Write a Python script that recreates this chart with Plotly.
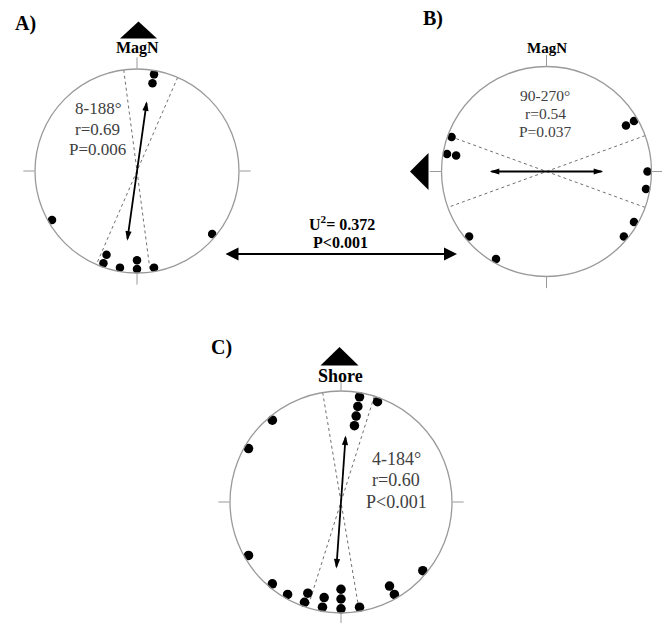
import plotly.graph_objects as go

W, H = 662, 623

# ---- data (compass degrees, clockwise from north) ----
a_angles = [10, 10, 130, 170, 180, 180, 190, 200, 200, 240]
b_angles = [60, 60, 90, 100, 120, 130, 210, 230, 280, 280, 290]
c_angles = [10, 10, 10, 10, 20, 130, 150, 150, 170, 180, 180, 180, 190, 190,
            200, 200, 210, 220, 240, 300, 320]

a_mean, a_r, a_ci = 8, 0.69, 15.5
b_mean, b_r, b_ci = 90, 0.54, 20
c_mean, c_r, c_ci = 4, 0.60, 13.5

a_text = ["8-188°", "r=0.69", "P=0.006"]
b_text = ["90-270°", "r=0.54", "P=0.037"]
c_text = ["4-184°", "r=0.60", "P<0.001"]
u2_text = ["U<sup>2</sup>= 0.372", "P<0.001"]

FONT = "Liberation Serif"
GREY = "#9a9a9a"
TXT = "#404040"

panels = [
    # name, angles, mean, r, ci, center px, radius px, dot size
    ("polar", a_angles, a_mean, a_r, a_ci, (137, 171), 102, 8.5),
    ("polar2", b_angles, b_mean, b_r, b_ci, (546.5, 171.5), 105, 8.5),
    ("polar3", c_angles, c_mean, c_r, c_ci, (341, 502), 111, 9.5),
]

fig = go.Figure()
layout_polars = {}
for name, angs, mean, rr, ci, (cx, cy), R, dsz in panels:
    # stack repeated angles inward
    seen = {}
    rs = []
    for a in angs:
        k = seen.get(a, 0)
        seen[a] = k + 1
        rs.append(0.962 - 0.088 * k)
    sub = name
    # dashed confidence lines
    t1, t2 = mean - ci, mean + ci
    fig.add_trace(go.Scatterpolar(
        r=[1, 0, 1, None, 1, 0, 1],
        theta=[t1, t1, t1 + 180, None, t2, t2, t2 + 180],
        mode="lines", line=dict(color="#6f6f6f", width=1, dash="3px,3px"),
        subplot=sub, hoverinfo="skip"))
    # mean axis arrow
    fig.add_trace(go.Scatterpolar(
        r=[rr * 0.97, 0, rr * 0.97], theta=[mean, mean, mean + 180],
        mode="lines", line=dict(color="black", width=1.8),
        subplot=sub, hoverinfo="skip"))
    fig.add_trace(go.Scatterpolar(
        r=[rr, rr], theta=[mean, mean + 180], mode="markers",
        marker=dict(symbol="arrow", size=10, color="black",
                    angle=[mean, mean + 180]),
        subplot=sub, hoverinfo="skip"))
    # data dots
    fig.add_trace(go.Scatterpolar(
        r=rs, theta=angs, mode="markers",
        marker=dict(color="black", size=dsz),
        subplot=sub))
    layout_polars[name] = dict(
        domain=dict(x=[(cx - R) / W, (cx + R) / W],
                    y=[(H - cy - R) / H, (H - cy + R) / H]),
        bgcolor="rgba(0,0,0,0)",
        radialaxis=dict(visible=False, range=[0, 1]),
        angularaxis=dict(rotation=90, direction="clockwise",
                         showgrid=False, showticklabels=False,
                         tickmode="array", tickvals=[0, 90, 180, 270],
                         ticks="outside", ticklen=11, tickcolor=GREY,
                         tickwidth=1.2, linecolor=GREY, linewidth=1.3,
                         showline=True),
    )

fig.update_layout(**layout_polars)

# overlay pixel axes for labels
fig.update_layout(
    width=W, height=H, margin=dict(l=0, r=0, t=0, b=0),
    paper_bgcolor="white", plot_bgcolor="white", showlegend=False,
    xaxis=dict(range=[0, W], visible=False, domain=[0, 1]),
    yaxis=dict(range=[H, 0], visible=False, domain=[0, 1]),
)

def txt(x, y, s, size, color=TXT, bold=False):
    fig.add_annotation(x=x, y=y, xref="x", yref="y", text=(f"<b>{s}</b>" if bold else s),
                       showarrow=False, font=dict(family=FONT, size=size, color=color),
                       xanchor="center", yanchor="middle")

for i, s in enumerate(a_text):
    txt(97.5, 108.5 + 20.5 * i, s, 17)
for i, s in enumerate(b_text):
    txt(545, 95 + 18.3 * i, s, 15.5)
for i, s in enumerate(c_text):
    txt(396, 458.5 + 21.7 * i, s, 18)

txt(25, 23, "A)", 20, "black", True)
txt(433, 18, "B)", 20, "black", True)
txt(221, 347, "C)", 20, "black", True)
txt(137, 48, "MagN", 16, "black", True)
txt(547, 48, "MagN", 15, "black", True)
txt(340, 376, "Shore", 18, "black", True)
txt(341.5, 223, u2_text[0], 16, "black", True)
txt(340, 242, u2_text[1], 16, "black", True)

# connecting double arrow
fig.add_annotation(x=457, y=254, ax=224, ay=254, xref="x", yref="y",
                   axref="x", ayref="y", text="", showarrow=True,
                   arrowside="end+start", arrowhead=2, arrowsize=1.3,
                   arrowwidth=2, arrowcolor="black")

# direction triangles
fig.add_shape(type="path", xref="x", yref="y",
              path="M 120 38.5 L 138.5 21.5 L 157 38.5 Z",
              fillcolor="black", line=dict(width=0))
fig.add_shape(type="path", xref="x", yref="y",
              path="M 428.5 153 L 410 171.5 L 428.5 190 Z",
              fillcolor="black", line=dict(width=0))
fig.add_shape(type="path", xref="x", yref="y",
              path="M 320.5 365.5 L 339.5 347 L 358.5 365.5 Z",
              fillcolor="black", line=dict(width=0))

fig.write_html("out.html", config={"displayModeBar": False},
               post_script="document.body.style.margin='0';document.body.style.padding='0';")
